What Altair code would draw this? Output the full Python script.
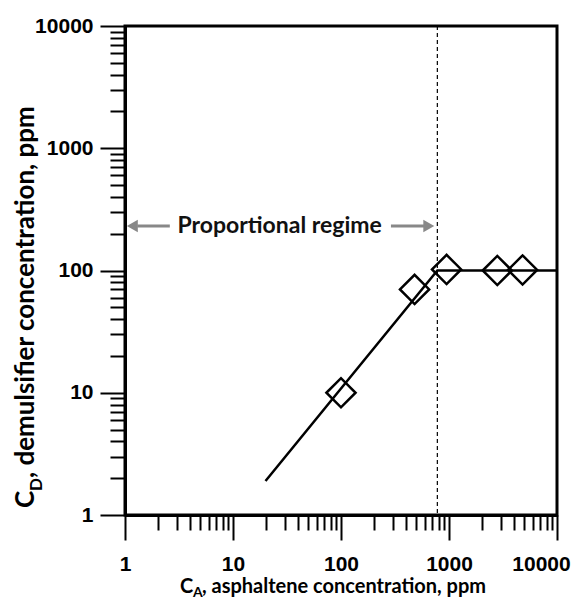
import altair as alt
import pandas as pd

# ---- data ----
ca_points = [100, 480, 950, 2800, 4800]
cd_points = [10, 70, 102, 100, 101]

line_ca = [20, 780, 10000]
line_cd = [1.9, 100, 100]

regime_boundary = [780]

arrow_x_start = [1.3, 290]
arrow_x_end = [2.6, 610]
arrow_y = [231, 231]
arrowhead_x = [1.17, 650]
arrowhead_shape = ["triangle-left", "triangle-right"]

regime_label = ["Proportional regime"]
regime_label_x = [27]
regime_label_y = [231]

major_ticks = [1, 10, 100, 1000, 10000]
minor_multipliers = [2, 3, 4, 5, 6, 7, 8, 9]
tick_values = sorted(major_ticks + [m * d for d in major_ticks[:-1] for m in minor_multipliers])

# ---- scales & axes ----
xscale = alt.Scale(type="log", domain=[1, 10000], nice=False)
yscale = alt.Scale(type="log", domain=[1, 10000], nice=False)

major_test = "indexof([1,10,100,1000,10000], datum.value) >= 0"
tick_size = {"condition": {"test": major_test, "value": 25}, "value": 15}
label_expr = f"{major_test} ? format(datum.value, 'd') : ''"

common_axis = dict(
    values=tick_values,
    labelExpr=label_expr,
    tickSize=tick_size,
    tickWidth=2,
    tickColor="black",
    domainColor="black",
    domainWidth=3,
    labelFont="Liberation Sans",
    labelFontSize=21,
    labelFontWeight="bold",
    labelColor="black",
    labelOverlap=False,
    labelFlush=False,
    grid=False,
    title=None,
)
xaxis = alt.Axis(
    labelPadding=13,
    labelOffset={"condition": {"test": "datum.value == 10000", "value": -16}, "value": 0},
    **common_axis,
)
yaxis = alt.Axis(labelPadding=7, **common_axis)

X = lambda f: alt.X(f, type="quantitative", scale=xscale, axis=xaxis)
Y = lambda f: alt.Y(f, type="quantitative", scale=yscale, axis=yaxis)

# ---- layers ----
line_df = pd.DataFrame({"x": line_ca, "y": line_cd})
pts_df = pd.DataFrame({"x": ca_points, "y": cd_points})
bound_df = pd.DataFrame({"x": regime_boundary})
arrow_df = pd.DataFrame({"x": arrow_x_start, "x2": arrow_x_end, "y": arrow_y})
head_df = pd.DataFrame({"x": arrowhead_x, "y": arrow_y, "shape": arrowhead_shape})
label_df = pd.DataFrame({"x": regime_label_x, "y": regime_label_y, "t": regime_label})

boundary = alt.Chart(bound_df).mark_rule(
    color="black", strokeWidth=1.2, strokeDash=[4, 3]
).encode(x=X("x"))

line = alt.Chart(line_df).mark_line(color="black", strokeWidth=2.5).encode(
    x=X("x"), y=Y("y")
)

points = alt.Chart(pts_df).mark_point(
    shape="diamond", size=850, filled=False, color="black", strokeWidth=2.5, opacity=1
).encode(x=X("x"), y=Y("y"))

arrows = alt.Chart(arrow_df).mark_rule(color="#888888", strokeWidth=3).encode(
    x=X("x"), x2="x2", y=Y("y")
)

heads = alt.Chart(head_df).mark_point(
    filled=True, size=160, color="#888888", opacity=1
).encode(
    x=X("x"), y=Y("y"),
    shape=alt.Shape("shape:N", scale=None, legend=None),
)

regime_text = alt.Chart(label_df).mark_text(
    font="Lato", fontSize=23, fontWeight="bold", color="#111111", baseline="middle"
).encode(x=X("x"), y=Y("y"), text="t:N")

# ---- axis titles with subscripts (text marks) ----
title_font = "Lato"
xt_main = alt.Chart(pd.DataFrame({"t": ["C"]})).mark_text(
    font=title_font, fontSize=20, fontWeight="bold", align="left", baseline="alphabetic", color="black"
).encode(x=alt.value(55), y=alt.value(567), text="t:N")
xt_sub = alt.Chart(pd.DataFrame({"t": ["A"]})).mark_text(
    font=title_font, fontSize=14, fontWeight="bold", align="left", baseline="alphabetic", color="black"
).encode(x=alt.value(68), y=alt.value(571), text="t:N")
xt_rest = alt.Chart(pd.DataFrame({"t": [", asphaltene concentration, ppm"]})).mark_text(
    font=title_font, fontSize=20, fontWeight="bold", align="left", baseline="alphabetic", color="black"
).encode(x=alt.value(77), y=alt.value(567), text="t:N")

yt_main = alt.Chart(pd.DataFrame({"t": ["C"]})).mark_text(
    font=title_font, fontSize=26, fontWeight="bold", align="left", baseline="alphabetic", angle=270, color="black"
).encode(x=alt.value(-91), y=alt.value(482), text="t:N")
yt_sub = alt.Chart(pd.DataFrame({"t": ["D"]})).mark_text(
    font=title_font, fontSize=17, fontWeight="bold", align="left", baseline="alphabetic", angle=270, color="black"
).encode(x=alt.value(-83), y=alt.value(465), text="t:N")
yt_rest = alt.Chart(pd.DataFrame({"t": [", demulsifier concentration, ppm"]})).mark_text(
    font=title_font, fontSize=26, fontWeight="bold", align="left", baseline="alphabetic", angle=270, color="black"
).encode(x=alt.value(-91), y=alt.value(452), text="t:N")

chart = alt.layer(
    boundary, line, points, arrows, heads, regime_text,
    xt_main, xt_sub, xt_rest, yt_main, yt_sub, yt_rest,
).properties(
    width=432,
    height=489,
    autosize="none",
    padding={"left": 117, "top": 18, "right": 15, "bottom": 85},
    background="white",
).configure_view(stroke="black", strokeWidth=3)

chart.save("out.html", embed_options={"renderer": "svg", "actions": False})
